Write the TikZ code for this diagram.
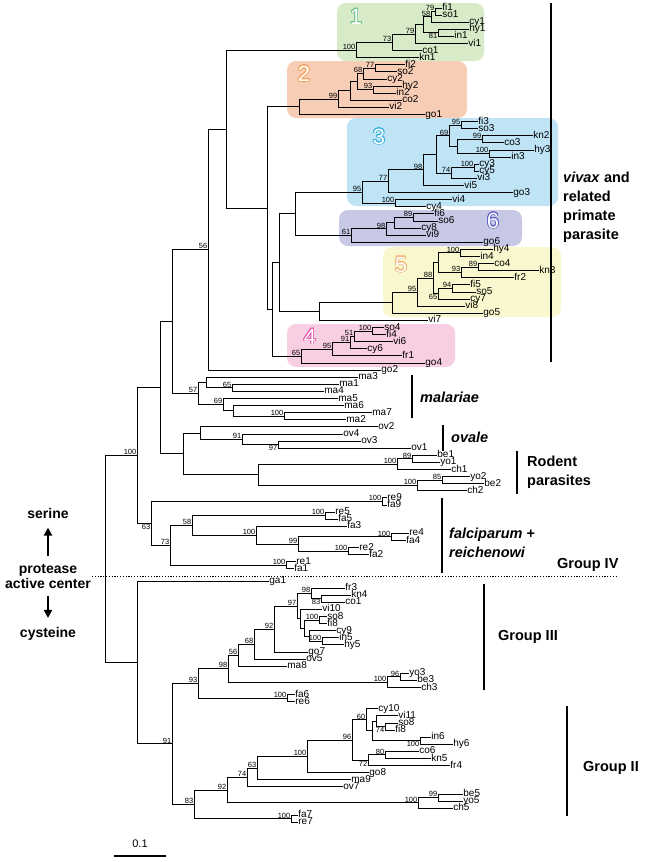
\documentclass[tikz,border=0pt]{standalone}
\usepackage{fontspec}
\setmainfont{Liberation Sans}
\usepackage[copies]{contour}
\usetikzlibrary{calc,arrows.meta}
\contourlength{0.8pt}
\definecolor{boxone}{RGB}{215,235,200}
\definecolor{boxtwo}{RGB}{248,205,182}
\definecolor{boxthree}{RGB}{190,228,246}
\definecolor{boxsix}{RGB}{198,200,230}
\definecolor{boxfive}{RGB}{249,247,205}
\definecolor{boxfour}{RGB}{247,206,226}
\definecolor{digone}{RGB}{110,195,140}
\definecolor{digtwo}{RGB}{245,160,90}
\definecolor{digthree}{RGB}{50,175,220}
\definecolor{digsix}{RGB}{95,95,200}
\definecolor{digfive}{RGB}{245,175,110}
\definecolor{digfour}{RGB}{230,80,170}
% leaf: name, row, end of branch, text
\newcommand\lf[4]{\node[leaf] (#1) at (#3,{8+7.1*#2+(#2>79)*5}) {#4};}
% join: name, x, upper child, lower child, bootstrap
\newcommand\jn[5]{\coordinate (mid) at ($(#3)!0.5!(#4)$);
  \coordinate[#5] (#1) at (#2,0 |- mid);
  \draw[br] (#1) |- (#3) (#1) |- (#4);}

\begin{document}
\begin{tikzpicture}[x=1pt,y=-1pt,label distance=0pt,
  leaf/.style={anchor=west,inner xsep=1.2pt,inner ysep=0pt,font=\fontsize{10}{10}\selectfont,text height=7pt,text depth=2pt},
  bs/.style={font=\fontsize{7.5}{7.5}\selectfont,inner sep=0.5pt},
  bsa/.style={label={[bs]above left:#1}},
  bsb/.style={label={[bs]below left:#1}},
  br/.style={line width=1pt,line cap=rect},
  bar/.style={line width=2.6pt},
  grp/.style={font=\fontsize{14.5}{19}\selectfont\bfseries,align=left,anchor=west,inner sep=0pt},
  dig/.style={font=\fontsize{22}{22}\selectfont,inner sep=0pt},
  arr/.style={-{Triangle[length=8pt,width=8pt]},line width=2.2pt}]
\useasboundingbox (0,0) rectangle (661,862);

% coloured clades
\fill[boxone,rounded corners=9pt] (337,3) rectangle (484,61);
\fill[boxtwo,rounded corners=9pt] (287,61) rectangle (467,118);
\fill[boxthree,rounded corners=9pt] (347,118) rectangle (558,206);
\fill[boxsix,rounded corners=9pt] (339,210) rectangle (522,246);
\fill[boxfive,rounded corners=9pt] (383,247) rectangle (561,317);
\fill[boxfour,rounded corners=9pt] (287,324) rectangle (455,367);
\node[dig] (d1) at (356,17) {\contour{digone}{\textcolor{white}{1}}};
\node[dig] (d2) at (304,74) {\contour{digtwo}{\textcolor{white}{2}}};
\node[dig] (d3) at (379,137) {\contour{digthree}{\textcolor{white}{3}}};
\node[dig] (d6) at (493,221) {\contour{digsix}{\textcolor{white}{6}}};
\node[dig] (d5) at (401,265) {\contour{digfive}{\textcolor{white}{5}}};
\node[dig] (d4) at (310,337) {\contour{digfour}{\textcolor{white}{4}}};

% leaves
\lf{fi1}{0}{441}{fi1}
\lf{so1}{1}{441}{so1}
\lf{cy1}{2}{468}{cy1}
\lf{hy1}{3}{468}{hy1}
\lf{in1}{4}{453}{in1}
\lf{vi1}{5}{467}{vi1}
\lf{co1}{6}{421}{co1}
\lf{kn1}{7}{418}{kn1}
\lf{fi2}{8}{404}{fi2}
\lf{so2}{9}{396}{so2}
\lf{cy2}{10}{386}{cy2}
\lf{hy2}{11}{401}{hy2}
\lf{in2}{12}{395}{in2}
\lf{co2}{13}{401}{co2}
\lf{vi2}{14}{388}{vi2}
\lf{go1}{15}{424}{go1}
\lf{fi3}{16}{477}{fi3}
\lf{so3}{17}{477}{so3}
\lf{kn2}{18}{532}{kn2}
\lf{co3}{19}{503}{co3}
\lf{hy3}{20}{533}{hy3}
\lf{in3}{21}{510}{in3}
\lf{cy3}{22}{478}{cy3}
\lf{cy5}{23}{478}{cy5}
\lf{vi3}{24}{476}{vi3}
\lf{vi5}{25}{463}{vi5}
\lf{go3}{26}{512}{go3}
\lf{vi4}{27}{451}{vi4}
\lf{cy4}{28}{425}{cy4}
\lf{fi6}{29}{433}{fi6}
\lf{so6}{30}{437}{so6}
\lf{cy8}{31}{420}{cy8}
\lf{vi9}{32}{425}{vi9}
\lf{go6}{33}{482}{go6}
\lf{hy4}{34}{492}{hy4}
\lf{in4}{35}{479}{in4}
\lf{co4}{36}{493}{co4}
\lf{kn3}{37}{538}{kn3}
\lf{fr2}{38}{513}{fr2}
\lf{fi5}{39}{469}{fi5}
\lf{so5}{40}{475}{so5}
\lf{cy7}{41}{469}{cy7}
\lf{vi8}{42}{464}{vi8}
\lf{go5}{43}{482}{go5}
\lf{vi7}{44}{427}{vi7}
\lf{so4}{45}{383}{so4}
\lf{fi4}{46}{385}{fi4}
\lf{vi6}{47}{392}{vi6}
\lf{cy6}{48}{366}{cy6}
\lf{fr1}{49}{401}{fr1}
\lf{go4}{50}{424}{go4}
\lf{go2}{51}{380}{go2}
\lf{ma3}{52}{357}{ma3}
\lf{ma1}{53}{338}{ma1}
\lf{ma4}{54}{323}{ma4}
\lf{ma5}{55}{337}{ma5}
\lf{ma6}{56}{343}{ma6}
\lf{ma7}{57}{371}{ma7}
\lf{ma2}{58}{345}{ma2}
\lf{ov2}{59}{377}{ov2}
\lf{ov4}{60}{342}{ov4}
\lf{ov3}{61}{360}{ov3}
\lf{ov1}{62}{410}{ov1}
\lf{be1}{63}{436}{be1}
\lf{yo1}{64}{439}{yo1}
\lf{ch1}{65}{450}{ch1}
\lf{yo2}{66}{469}{yo2}
\lf{be2}{67}{483}{be2}
\lf{ch2}{68}{466}{ch2}
\lf{re9}{69}{386}{re9}
\lf{fa9}{70}{386}{fa9}
\lf{re5}{71}{334}{re5}
\lf{fa5}{72}{337}{fa5}
\lf{fa3}{73}{346}{fa3}
\lf{re4}{74}{408}{re4}
\lf{fa4}{75}{405}{fa4}
\lf{re2}{76}{358}{re2}
\lf{fa2}{77}{368}{fa2}
\lf{re1}{78}{295}{re1}
\lf{fa1}{79}{293}{fa1}
\lf{ga1}{80}{268}{ga1}
\lf{fr3}{81}{344}{fr3}
\lf{kn4}{82}{350}{kn4}
\lf{co1b}{83}{344}{co1}
\lf{vi10}{84}{321}{vi10}
\lf{so8}{85}{326}{so8}
\lf{fi8}{86}{326}{fi8}
\lf{cy9}{87}{335}{cy9}
\lf{in5}{88}{338}{in5}
\lf{hy5}{89}{343}{hy5}
\lf{go7}{90}{307}{go7}
\lf{ov5}{91}{305}{ov5}
\lf{ma8}{92}{286}{ma8}
\lf{yo3}{93}{408}{yo3}
\lf{be3}{94}{416}{be3}
\lf{ch3}{95}{420}{ch3}
\lf{fa6}{96}{294}{fa6}
\lf{re6}{97}{294}{re6}
\lf{cy10}{98}{377}{cy10}
\lf{vi11}{99}{397}{vi11}
\lf{so8b}{100}{397}{so8}
\lf{fi8b}{101}{394}{fi8}
\lf{in6}{102}{430}{in6}
\lf{hy6}{103}{452}{hy6}
\lf{co6}{104}{418}{co6}
\lf{kn5}{105}{430}{kn5}
\lf{fr4}{106}{449}{fr4}
\lf{go8}{107}{368}{go8}
\lf{ma9}{108}{350}{ma9}
\lf{ov7}{109}{342}{ov7}
\lf{be5}{110}{462}{be5}
\lf{yo5}{111}{462}{yo5}
\lf{ch5}{112}{452}{ch5}
\lf{fa7}{113}{297}{fa7}
\lf{re7}{114}{297}{re7}

% clade 1
\jn{g1a}{435}{fi1}{so1}{bsa=79}
\jn{g1b}{431}{g1a}{cy1}{bsa=58}
\jn{g1c}{438}{hy1}{in1}{bsb=81}
\jn{g1d}{423}{g1b}{g1c}{}
\jn{g1e}{415}{g1d}{vi1}{bsa=79}
\jn{g1f}{392}{g1e}{co1}{bsa=73}
\jn{g1g}{356}{g1f}{kn1}{bsa=100}
% clade 2
\jn{g2a}{375}{fi2}{so2}{bsa=77}
\jn{g2b}{363}{g2a}{cy2}{bsa=68}
\jn{g2c}{373}{hy2}{in2}{bsa=93}
\jn{g2d}{357}{g2b}{g2c}{}
\jn{g2e}{350}{g2d}{co2}{}
\jn{g2f}{338}{g2e}{vi2}{bsa=99}
\jn{g2g}{299}{g2f}{go1}{}
% clade 3
\jn{g3a}{461}{fi3}{so3}{bsa=95}
\jn{g3b}{482}{kn2}{co3}{bsa=99}
\jn{g3c}{489}{hy3}{in3}{bsa=100}
\jn{g3d}{457}{g3b}{g3c}{}
\jn{g3e}{449}{g3a}{g3d}{bsa=69}
\jn{g3f}{474}{cy3}{cy5}{bsa=100}
\jn{g3g}{451}{g3f}{vi3}{bsa=74}
\jn{g3h}{436}{g3e}{g3g}{}
\jn{g3i}{423}{g3h}{vi5}{bsa=98}
\jn{g3j}{388}{g3i}{go3}{bsa=77}
\jn{g3k}{395}{vi4}{cy4}{bsa=100}
\jn{g3l}{362}{g3j}{g3k}{bsa=95}
% clade 6
\jn{g6a}{413}{fi6}{so6}{bsa=89}
\jn{g6b}{394}{g6a}{cy8}{}
\jn{g6c}{386}{g6b}{vi9}{bsa=98}
\jn{g6d}{351}{g6c}{go6}{bsa=61}
% clade 5
\jn{g5a}{460}{hy4}{in4}{bsa=100}
\jn{g5b}{478}{co4}{kn3}{bsa=89}
\jn{g5c}{461}{g5b}{fr2}{bsa=93}
\jn{g5d}{438}{g5a}{g5c}{}
\jn{g5e}{452}{fi5}{so5}{bsa=94}
\jn{g5f}{438}{g5e}{cy7}{bsb=65}
\jn{g5g}{433}{g5d}{g5f}{bsa=88}
\jn{g5h}{417}{g5g}{vi8}{bsa=95}
\jn{g5i}{392}{g5h}{go5}{}
% clade 4
\jn{g4a}{372}{so4}{fi4}{bsa=100}
\jn{g4b}{354}{g4a}{vi6}{bsa=51}
\jn{g4c}{350}{g4b}{cy6}{bsa=91}
\jn{g4d}{332}{g4c}{fr1}{bsa=95}
\jn{g4e}{301}{g4d}{go4}{bsa=65}
% vivax backbone
\jn{I}{295}{g3l}{g6d}{}
\jn{J}{319}{g5i}{vi7}{}
\jn{H}{279}{I}{J}{}
\jn{G}{272}{H}{g4e}{}
\jn{F}{267}{g2g}{G}{}
\jn{E}{226}{g1g}{F}{}
\jn{D}{208}{E}{go2}{bsa=56}
% malariae
\jn{gm65}{232}{ma1}{ma4}{bsa=65}
\jn{gm1}{206}{ma3}{gm65}{}
\jn{gm100}{284}{ma7}{ma2}{bsa=100}
\jn{gm3}{233}{ma6}{gm100}{}
\jn{gm69}{223}{ma5}{gm3}{bsa=69}
\jn{M}{198}{gm1}{gm69}{bsa=57}
\jn{C}{172}{D}{M}{}
% ovale and rodent
\jn{go97}{278}{ov3}{ov1}{bsb=97}
\jn{go91}{242}{ov4}{go97}{bsa=91}
\jn{gov}{200}{ov2}{go91}{}
\jn{gr89}{412}{be1}{yo1}{bsa=89}
\jn{gr1}{397}{gr89}{ch1}{bsa=100}
\jn{gr85}{442}{yo2}{be2}{bsa=85}
\jn{gr2}{417}{gr85}{ch2}{bsa=100}
\jn{gr}{258}{gr1}{gr2}{}
\jn{gor}{183}{gov}{gr}{}
\jn{B}{160}{C}{gor}{}
% falciparum
\jn{gf9}{382}{re9}{fa9}{bsa=100}
\jn{gf5}{325}{re5}{fa5}{bsa=100}
\jn{gf4}{391}{re4}{fa4}{bsa=100}
\jn{gf2}{348}{re2}{fa2}{bsa=100}
\jn{F5}{298}{gf4}{gf2}{bsa=99}
\jn{F4}{256}{fa3}{F5}{bsa=100}
\jn{F3}{192}{gf5}{F4}{bsa=58}
\jn{gf1}{286}{re1}{fa1}{bsa=100}
\jn{F2}{170}{F3}{gf1}{bsa=73}
\jn{F1}{151}{gf9}{F2}{bsb=63}
\jn{A}{137}{B}{F1}{bsa=100}
% group III
\jn{g83}{321}{kn4}{co1b}{bsb=83}
\jn{L10}{311}{fr3}{g83}{bsa=98}
\jn{gso}{319}{so8}{fi8}{bsa=100}
\jn{ghy}{322}{in5}{hy5}{bsa=100}
\jn{L13}{309}{cy9}{ghy}{}
\jn{L12}{304}{gso}{L13}{}
\jn{L11}{300}{vi10}{L12}{}
\jn{L9}{297}{L10}{L11}{bsa=97}
\jn{L8}{274}{L9}{go7}{bsa=92}
\jn{L7}{254}{L8}{ov5}{bsa=68}
\jn{L6}{238}{L7}{ma8}{bsa=56}
\jn{g96}{400}{yo3}{be3}{bsa=96}
\jn{gch}{387}{g96}{ch3}{bsa=100}
\jn{L5}{228}{L6}{gch}{bsa=98}
\jn{gfa6}{287}{fa6}{re6}{bsa=100}
\jn{L3}{198}{L5}{gfa6}{bsa=93}
% group II
\jn{g74}{385}{so8b}{fi8b}{bsb=74}
\jn{L23}{376}{vi11}{g74}{}
\jn{gin}{420}{in6}{hy6}{bsb=100}
\jn{L22}{372}{L23}{gin}{}
\jn{L20}{366}{cy10}{L22}{bsa=60}
\jn{g80}{385}{co6}{kn5}{bsa=80}
\jn{L21}{368}{g80}{fr4}{bsb=72}
\jn{L19}{352}{L20}{L21}{bsa=96}
\jn{L18}{307}{L19}{go8}{bsa=100}
\jn{L17}{257}{L18}{ma9}{bsa=63}
\jn{L15}{247}{L17}{ov7}{bsa=74}
\jn{g99}{438}{be5}{yo5}{bsa=99}
\jn{gbe}{418}{g99}{ch5}{bsa=100}
\jn{L14}{227}{L15}{gbe}{bsa=92}
\jn{gfa7}{291}{fa7}{re7}{bsa=100}
\jn{L4}{194}{L14}{gfa7}{bsa=83}
\jn{L2}{172}{L3}{L4}{bsa=91}
\jn{L1}{137}{ga1}{L2}{}
\jn{R}{105}{A}{L1}{}

% groups
\draw[bar] (551,3) -- (551,362);
\node[grp] (viv) at (563,207) {\textit{vivax} and\\related\\primate\\parasite};
\draw[bar] (412,375) -- (412,418);
\node[grp] (mal) at (420,397) {\textit{malariae}};
\draw[bar] (443,425) -- (443,451);
\node[grp] (ova) at (451,437) {\textit{ovale}};
\draw[bar] (517,451) -- (517,494);
\node[grp] (rod) at (527,472) {Rodent\\parasites};
\draw[bar] (442,498) -- (442,573);
\node[grp] (fal) at (449,543) {\textit{falciparum} +\\\textit{reichenowi}};
\node[grp] (g4) at (557,565) {Group IV};
\draw[line width=0.9pt,dash pattern=on 1.2pt off 1.6pt] (92,576) -- (618,576);
\draw[bar] (484,584) -- (484,690);
\node[grp] (g3) at (498,637) {Group III};
\draw[bar] (567,706) -- (567,816);
\node[grp] (g2) at (583,768) {Group II};

% protease active center
\node[font=\fontsize{14}{15}\selectfont\bfseries] (ser) at (48,513) {serine};
\node[font=\fontsize{14}{15}\selectfont\bfseries,align=center] (prot) at (48,576) {protease\\active center};
\node[font=\fontsize{14}{15}\selectfont\bfseries] (cys) at (48,634) {cysteine};
\draw[arr,shorten <=4pt,shorten >=6pt] (prot.north) -- (ser.south);
\draw[arr,shorten <=4pt,shorten >=6pt] (prot.south) -- (cys.north);

% scale
\draw[line width=2pt] (114,856) -- (166,856);
\node[font=\fontsize{11}{11}\selectfont] (sc) at (140,844) {0.1};
\end{tikzpicture}
\end{document}
